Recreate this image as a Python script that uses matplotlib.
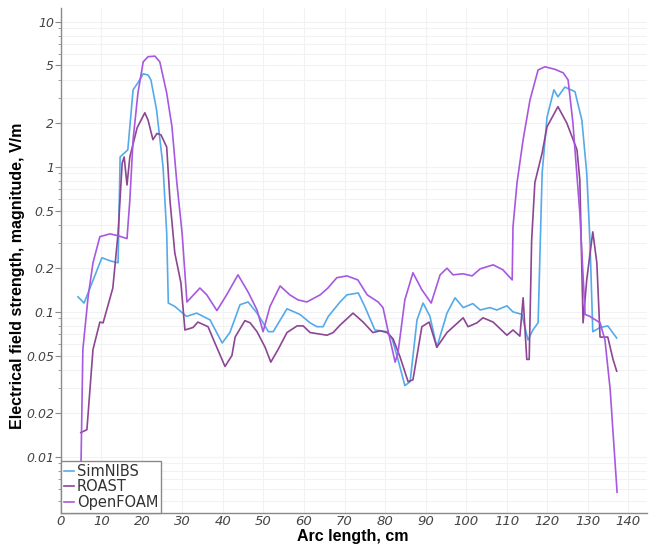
import numpy as np
import matplotlib
matplotlib.use('Agg')
import matplotlib.pyplot as plt
from matplotlib.ticker import FixedLocator, FixedFormatter, LogLocator, NullFormatter

# SimNIBS
simnibs_x = [4.2, 5.7, 10.1, 12.1, 14.1, 14.6, 16.5, 17.8, 19.0, 20.3, 21.5, 22.2, 23.6, 25.2, 26.1, 26.5,
             28.1, 31.0, 33.5, 36.8, 39.8, 41.7, 44.2, 46.2, 48.4, 49.9, 51.2, 52.4, 55.8, 59.0, 61.5,
             63.2, 64.7, 66.0, 68.9, 70.6, 73.4, 75.0, 77.5, 80.5, 81.7, 83.2, 84.9, 86.2, 87.9, 89.4,
             91.1, 92.8, 95.3, 97.3, 99.3, 101.7, 103.5, 105.9, 107.6, 110.1, 111.6, 113.8, 115.3, 116.5,
             117.8, 118.8, 120.0, 121.7, 122.7, 124.4, 126.9, 128.6, 129.8, 130.6, 131.3, 133.1, 135.0, 137.2]
simnibs_y = [0.127, 0.115, 0.236, 0.225, 0.218, 1.17, 1.31, 3.4, 3.8, 4.38, 4.3, 3.98, 2.47, 1.0, 0.35, 0.115,
             0.109, 0.093, 0.098, 0.088, 0.061, 0.072, 0.112, 0.117, 0.098, 0.084, 0.073, 0.073, 0.105, 0.096, 0.084,
             0.079, 0.079, 0.093, 0.117, 0.131, 0.135, 0.109, 0.075, 0.073, 0.066, 0.047, 0.031, 0.033, 0.088, 0.115,
             0.093, 0.057, 0.098, 0.125, 0.107, 0.114, 0.103, 0.107, 0.103, 0.110, 0.100, 0.096, 0.064, 0.075,
             0.084, 0.91, 2.2, 3.4, 3.04, 3.55, 3.3, 2.1, 0.91, 0.31, 0.073, 0.078, 0.080, 0.066]

# ROAST
roast_x = [4.9, 6.4, 7.9, 9.6, 10.4, 12.8, 14.1, 15.1, 15.6, 16.3, 17.0, 18.8, 20.7, 21.5, 22.7, 23.7, 24.7,
           26.1, 26.9, 28.1, 29.6, 30.6, 32.6, 33.8, 36.3, 38.0, 40.5, 42.2, 43.0, 45.4, 46.7, 48.4, 50.4,
           51.8, 53.6, 55.8, 58.3, 59.8, 61.5, 65.7, 67.2, 68.9, 72.1, 74.6, 77.0, 78.8, 80.5, 82.0, 83.7,
           85.7, 86.9, 89.1, 90.9, 92.8, 95.3, 99.3, 100.5, 102.7, 104.2, 106.7, 110.1, 111.6, 113.3, 114.1,
           115.0, 115.6, 116.2, 117.0, 118.8, 120.0, 122.7, 124.9, 127.4, 128.1, 128.9, 129.8, 131.3, 132.3,
           133.1, 135.0, 136.3, 137.2]
roast_y = [0.0147, 0.0154, 0.055, 0.085, 0.084, 0.146, 0.35, 1.06, 1.17, 0.75, 1.17, 1.86, 2.36, 2.1, 1.54, 1.7, 1.66,
           1.37, 0.59, 0.255, 0.159, 0.075, 0.078, 0.085, 0.079, 0.061, 0.042, 0.050, 0.067, 0.087, 0.084, 0.073, 0.057,
           0.045, 0.055, 0.072, 0.080, 0.080, 0.072, 0.069, 0.072, 0.081, 0.098, 0.085, 0.072, 0.074, 0.072, 0.065, 0.049,
           0.033, 0.034, 0.079, 0.085, 0.057, 0.072, 0.091, 0.079, 0.084, 0.091, 0.085, 0.069, 0.075, 0.068, 0.125,
           0.047, 0.047, 0.31, 0.78, 1.25, 1.89, 2.6, 2.0, 1.31, 0.81, 0.084, 0.166, 0.356, 0.218,
           0.067, 0.067, 0.047, 0.039]

# OpenFOAM
openfoam_x = [4.8, 5.4, 6.7, 7.9, 9.6, 12.1, 14.1, 16.3, 17.0, 17.8, 19.0, 20.3, 21.5, 23.2, 24.4, 26.1, 27.4,
              28.6, 29.9, 31.1, 34.3, 36.0, 38.5, 40.9, 43.7, 46.2, 48.4, 49.9, 51.6, 54.1, 56.5, 58.5, 60.7,
              64.0, 65.9, 68.1, 70.6, 73.3, 75.6, 78.3, 79.5, 80.7, 82.5, 83.2, 84.9, 86.9, 89.1, 91.4, 93.6,
              95.3, 96.8, 99.3, 101.5, 103.5, 106.7, 109.1, 111.4, 111.6, 112.6, 114.1, 115.8, 117.8, 119.5,
              122.0, 124.0, 125.2, 126.4, 128.1, 129.4, 130.6, 133.1, 134.3, 135.6, 136.3, 137.3]
openfoam_y = [0.005, 0.055, 0.127, 0.218, 0.33, 0.345, 0.335, 0.32, 0.59, 1.54, 3.23, 5.3, 5.75, 5.8, 5.3, 3.23, 1.89,
              0.78, 0.35, 0.117, 0.146, 0.131, 0.102, 0.131, 0.18, 0.137, 0.103, 0.073, 0.109, 0.151, 0.131, 0.121, 0.117,
              0.131, 0.146, 0.172, 0.177, 0.166, 0.131, 0.117, 0.107, 0.075, 0.045, 0.052, 0.121, 0.186, 0.142, 0.115, 0.18,
              0.20, 0.18, 0.183, 0.177, 0.198, 0.211, 0.195, 0.166, 0.386, 0.78, 1.54, 2.9, 4.66, 4.9,
              4.7, 4.45, 3.98, 2.0, 0.48, 0.096, 0.093, 0.084, 0.064, 0.029, 0.0147, 0.0057]

ytick_vals = [0.01, 0.02, 0.05, 0.1, 0.2, 0.5, 1, 2, 5, 10]
ytick_labels = ['0.01', '0.02', '0.05', '0.1', '0.2', '0.5', '1', '2', '5', '10']

fig = plt.figure(figsize=(6.6, 5.45), dpi=100)
ax = fig.add_axes([0.0924, 0.0587, 0.888, 0.927])

ax.plot(simnibs_x, simnibs_y, color='#55aaea', lw=1.2, label='SimNIBS')
ax.plot(roast_x, roast_y, color='#8c4693', lw=1.2, label='ROAST')
ax.plot(openfoam_x, openfoam_y, color='#a758e0', lw=1.2, label='OpenFOAM')

ax.set_yscale('log')
ax.set_xlim(0, 144.7)
ax.set_ylim(0.0041, 12.5)

ax.xaxis.set_major_locator(FixedLocator(np.arange(0, 141, 10)))
ax.yaxis.set_major_locator(FixedLocator(ytick_vals))
ax.yaxis.set_major_formatter(FixedFormatter(ytick_labels))
ax.yaxis.set_minor_locator(LogLocator(base=10, subs=np.arange(2, 10)))
ax.yaxis.set_minor_formatter(NullFormatter())

ax.grid(True, which='both', color='#f2f2f4', lw=0.8)
ax.set_axisbelow(True)

for s in ['top', 'right']:
    ax.spines[s].set_visible(False)
for s in ['left', 'bottom']:
    ax.spines[s].set_color('#8a8a8a')
    ax.spines[s].set_linewidth(1.0)

ax.tick_params(axis='x', which='major', length=0, pad=1.5, labelcolor='#444444', labelsize=9.5)
ax.tick_params(axis='y', which='major', colors='#8a8a8a', labelcolor='#444444',
               labelsize=9, length=4, width=0.8, pad=1)
ax.tick_params(axis='y', which='minor', colors='#8a8a8a', length=2.5, width=0.6)
for lbl in ax.get_xticklabels() + ax.get_yticklabels():
    lbl.set_fontstyle('italic')

ax.set_xlabel('Arc length, cm', fontsize=11.5, fontweight='bold', family='Liberation Sans')
ax.set_ylabel('Electrical field strength, magnitude, V/m', fontsize=11.5, fontweight='bold',
              family='Liberation Sans')
ax.xaxis.set_label_coords(0.498, -0.046)
ax.yaxis.set_label_coords(-0.075, 0.47)
ax.xaxis.label.set_va('center')
ax.yaxis.label.set_va('center')

leg = ax.legend(loc='lower left', borderaxespad=0, fontsize=10.5, handlelength=0.7,
                handletextpad=0.2, labelspacing=0.05, borderpad=0.2, fancybox=False,
                framealpha=1, edgecolor='#8a8a8a')
for t in leg.get_texts():
    t.set_color('#333333')

fig.savefig('out.png', dpi=100)
